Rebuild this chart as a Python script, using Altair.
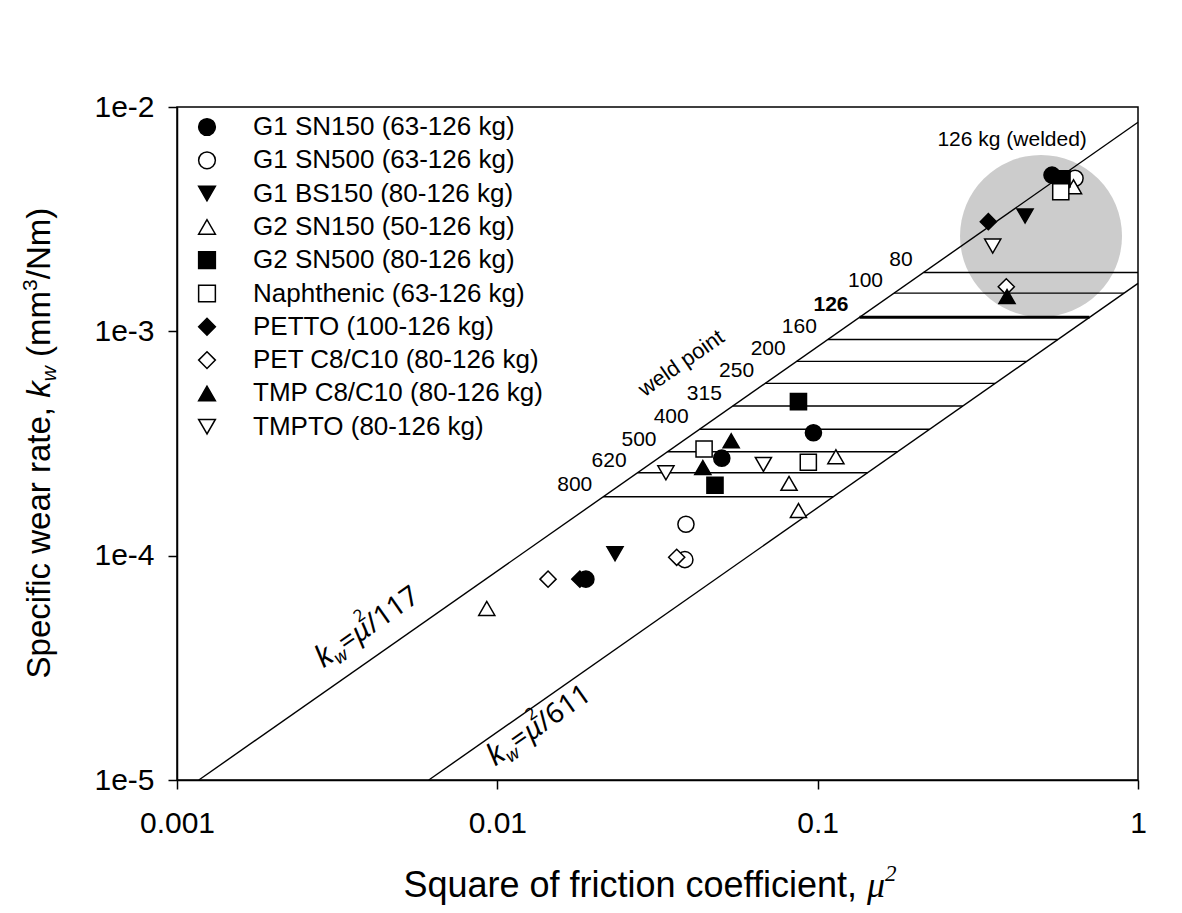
import json
import altair as alt
import pandas as pd

# ---------------- data ----------------
series = ["G1 SN150 (63-126 kg)", "G1 SN500 (63-126 kg)", "G1 BS150 (80-126 kg)",
          "G2 SN150 (50-126 kg)", "G2 SN500 (80-126 kg)", "Naphthenic (63-126 kg)",
          "PETTO (100-126 kg)", "PET C8/C10 (80-126 kg)", "TMP C8/C10 (80-126 kg)",
          "TMPTO (80-126 kg)"]
shapes = ["circle", "circle", "triangle-down", "triangle-up", "square", "square",
          "diamond", "diamond", "triangle-up", "triangle-down"]
fills = ["black", "white", "black", "white", "black", "white",
         "black", "white", "black", "white"]
outline = ["black"] * len(series)

mu2_values = [
    [0.0189, 0.0502, 0.0970, 0.539],
    [0.0388, 0.0385, 0.636],
    [0.0233, 0.444],
    [0.00927, 0.0814, 0.0871, 0.114, 0.629],
    [0.0478, 0.0871, 0.579],
    [0.0442, 0.0935, 0.574],
    [0.0181, 0.341],
    [0.0144, 0.0363, 0.388],
    [0.0438, 0.0537, 0.390],
    [0.0336, 0.0677, 0.352],
]
kw_values = [
    [7.86e-5, 2.72e-4, 3.53e-4, 4.97e-3],
    [1.38e-4, 9.6e-5, 4.81e-3],
    [1.02e-4, 3.27e-3],
    [5.82e-5, 2.10e-4, 1.59e-4, 2.76e-4, 4.41e-3],
    [2.06e-4, 4.86e-4, 4.78e-3],
    [2.99e-4, 2.61e-4, 4.19e-3],
    [7.86e-5, 3.08e-3],
    [7.86e-5, 9.83e-5, 1.58e-3],
    [2.47e-4, 3.25e-4, 1.43e-3],
    [2.34e-4, 2.55e-4, 2.40e-3],
]

line_coefs = [117, 611]
loads = [80, 100, 126, 160, 200, 250, 315, 400, 500, 620, 800]
load_kw = [1.83e-3, 1.48e-3, 1.155e-3, 9.2e-4, 7.35e-4, 5.86e-4,
           4.645e-4, 3.66e-4, 2.905e-4, 2.343e-4, 1.83e-4]
bold_load = 126

welded_center = [0.498, 2.66e-3]
welded_label = ["126 kg (welded)", 0.4046, 6.7e-3]
weld_label = ["weld point", 0.0375, 7.22e-4]
formula_anchors = [[117, 0.00286, 3.14e-5], [611, 0.00984, 1.146e-5]]

x_dom = [0.001, 1]
y_dom = [1e-5, 1e-2]
x_tick_values = [0.001, 0.01, 0.1, 1]
x_tick_labels = ["0.001", "0.01", "0.1", "1"]
y_tick_values = [1e-5, 1e-4, 1e-3, 1e-2]
y_tick_labels = ["1e-5", "1e-4", "1e-3", "1e-2"]

# ---------------- tables ----------------
rows = []
for s, xs, ys in zip(series, mu2_values, kw_values):
    for xv, yv in zip(xs, ys):
        rows.append({"series": s, "mu2": xv, "kw": yv})
pts = pd.DataFrame(rows)

line_rows = []
for c in line_coefs:
    line_rows.append({"c": c, "mu2": c * y_dom[0], "kw": y_dom[0]})
    line_rows.append({"c": c, "mu2": x_dom[1], "kw": x_dom[1] / c})
lines_df = pd.DataFrame(line_rows)

hatch = pd.DataFrame({"load": loads, "kw": load_kw})
hatch["x1"] = line_coefs[0] * hatch["kw"]
hatch["x2"] = (line_coefs[1] * hatch["kw"]).clip(upper=x_dom[1])
hatch["label"] = hatch["load"].astype(str)

# ---------------- scales / axes ----------------
FONT = "Liberation Sans"
xscale = alt.Scale(type="log", domain=x_dom, nice=False)
yscale = alt.Scale(type="log", domain=y_dom, nice=False)
xaxis = alt.Axis(values=x_tick_values, title=None, grid=False,
                 labelExpr=f"{json.dumps(x_tick_labels)}[round(log(datum.value)/LN10)+3]",
                 labelFlush=False, labelOverlap=False, labelPadding=19)
yaxis = alt.Axis(values=y_tick_values, title=None, grid=False,
                 labelExpr=f"{json.dumps(y_tick_labels)}[round(log(datum.value)/LN10)+5]",
                 labelOverlap=False, labelPadding=14)


def X(f):
    return alt.X(f"{f}:Q", scale=xscale, axis=xaxis)


def Y(f):
    return alt.Y(f"{f}:Q", scale=yscale, axis=yaxis)


layers = []

# grey "welded" disc
layers.append(
    alt.Chart(pd.DataFrame({"mu2": [welded_center[0]], "kw": [welded_center[1]]}))
    .mark_point(filled=True, shape="circle", size=26244, color="#cccccc", opacity=1, strokeWidth=0)
    .encode(x=X("mu2"), y=Y("kw"))
)

# diagonal lines
layers.append(
    alt.Chart(lines_df).mark_line(color="black", strokeWidth=1.4)
    .encode(x=X("mu2"), y=Y("kw"), detail="c:N")
)

# hatch lines
layers.append(
    alt.Chart(hatch).mark_rule(color="black")
    .encode(x=X("x1"), x2="x2:Q", y=Y("kw"),
            strokeWidth=alt.condition(alt.datum.load == bold_load, alt.value(3), alt.value(1.4)))
)

# load labels
for weight, cond in [("normal", alt.datum.load != bold_load), ("bold", alt.datum.load == bold_load)]:
    layers.append(
        alt.Chart(hatch).transform_filter(cond)
        .mark_text(align="right", baseline="alphabetic", dx=-11, dy=-6,
                   fontSize=21, font=FONT, color="black", fontWeight=weight)
        .encode(x=X("x1"), y=Y("kw"), text="label:N")
    )

# weld point label
layers.append(
    alt.Chart(pd.DataFrame({"t": [weld_label[0]], "mu2": [weld_label[1]], "kw": [weld_label[2]]}))
    .mark_text(angle=325, align="center", baseline="middle", fontSize=22, font=FONT, color="black")
    .encode(x=X("mu2"), y=Y("kw"), text="t:N")
)
# welded label
layers.append(
    alt.Chart(pd.DataFrame({"t": [welded_label[0]], "mu2": [welded_label[1]], "kw": [welded_label[2]]}))
    .mark_text(align="center", baseline="alphabetic", fontSize=21, font=FONT, color="black")
    .encode(x=X("mu2"), y=Y("kw"), text="t:N")
)

# formula labels along lines (pieces in rotated frame)
FF = "Noto Sans"
for coef, fx, fy in formula_anchors:
    d = pd.DataFrame({"mu2": [fx], "kw": [fy]})
    pieces = [
        ("k", 30, "italic", 0, 0),
        ("w", 18, "italic", 15, 6),
        ("=", 28, "normal", 28, 0),
        ("\u03bc", 28, "italic", 44, 0),
        ("2", 17, "normal", 55, -17),
        ("/" + str(coef), 28, "normal", 61, 0),
    ]
    for txt, fs, style, dx, dy in pieces:
        layers.append(
            alt.Chart(d).mark_text(text=txt, angle=325, align="left", baseline="alphabetic",
                                   fontSize=fs, fontStyle=style, font=FF, color="black",
                                   dx=dx, dy=dy)
            .encode(x=X("mu2"), y=Y("kw"))
        )

# data points with legend
leg = alt.Legend(title=None, orient="none", legendX=17, legendY=7, labelFontSize=26,
                 labelFont=FONT, labelColor="black", symbolSize=280, symbolStrokeWidth=1.5,
                 symbolStrokeColor="black", rowPadding=7.3, labelOffset=33, labelLimit=500)
layers.append(
    alt.Chart(pts).mark_point(filled=True, strokeWidth=1.5, opacity=1, size=260)
    .encode(
        x=X("mu2"), y=Y("kw"),
        shape=alt.Shape("series:N", scale=alt.Scale(domain=series, range=shapes), legend=leg),
        fill=alt.Fill("series:N", scale=alt.Scale(domain=series, range=fills), legend=leg),
        stroke=alt.Stroke("series:N", scale=alt.Scale(domain=series, range=outline), legend=leg),
    )
)

# axis titles composed from pieces
one = alt.Data(values=[{}])
YF = 33
jy = 300
jx = -127
ytitle = [
    ("Specific wear rate,", YF, "normal", "right", 0, 0),
    ("k", YF, "italic", "left", 9.2, 0),
    ("w", 21, "italic", "left", 25.7, 6),
    ("(mm", YF, "normal", "left", 50.1, 0),
    ("3", 21, "normal", "left", 116.1, -13),
    ("/Nm)", YF, "normal", "left", 127.8, 0),
]
for txt, fs, style, al, dx, dy in ytitle:
    layers.append(
        alt.Chart(one).mark_text(text=txt, angle=270, align=al, baseline="alphabetic",
                                 fontSize=fs, fontStyle=style, font=FONT, color="black",
                                 dx=dx, dy=dy)
        .encode(x=alt.value(jx), y=alt.value(jy))
    )

XF = 36
xj = 680
xb = 790
xtitle = [
    ("Square of friction coefficient,", XF, "normal", FONT, "right", 0, 0),
    ("\u03bc", XF, "italic", "Liberation Serif", "left", 10, 0),
    ("2", 23, "italic", "Liberation Serif", "left", 28, -16),
]
for txt, fs, style, font, al, dx, dy in xtitle:
    layers.append(
        alt.Chart(one).mark_text(text=txt, align=al, baseline="alphabetic",
                                 fontSize=fs, fontStyle=style, font=font, color="black",
                                 dx=dx, dy=dy)
        .encode(x=alt.value(xj), y=alt.value(xb))
    )

chart = (
    alt.layer(*layers)
    .properties(width=961, height=673, autosize="none",
                padding={"left": 169, "top": 99, "right": 36, "bottom": 128})
    .configure_view(stroke="black", strokeWidth=1.5)
    .configure_axis(domainColor="black", domainWidth=1.5, tickColor="black", tickWidth=1.5,
                    tickSize=9, labelFont=FONT, labelFontSize=30, labelColor="black", grid=False)
)

chart.save("out.html", embed_options={"renderer": "svg", "actions": False})
